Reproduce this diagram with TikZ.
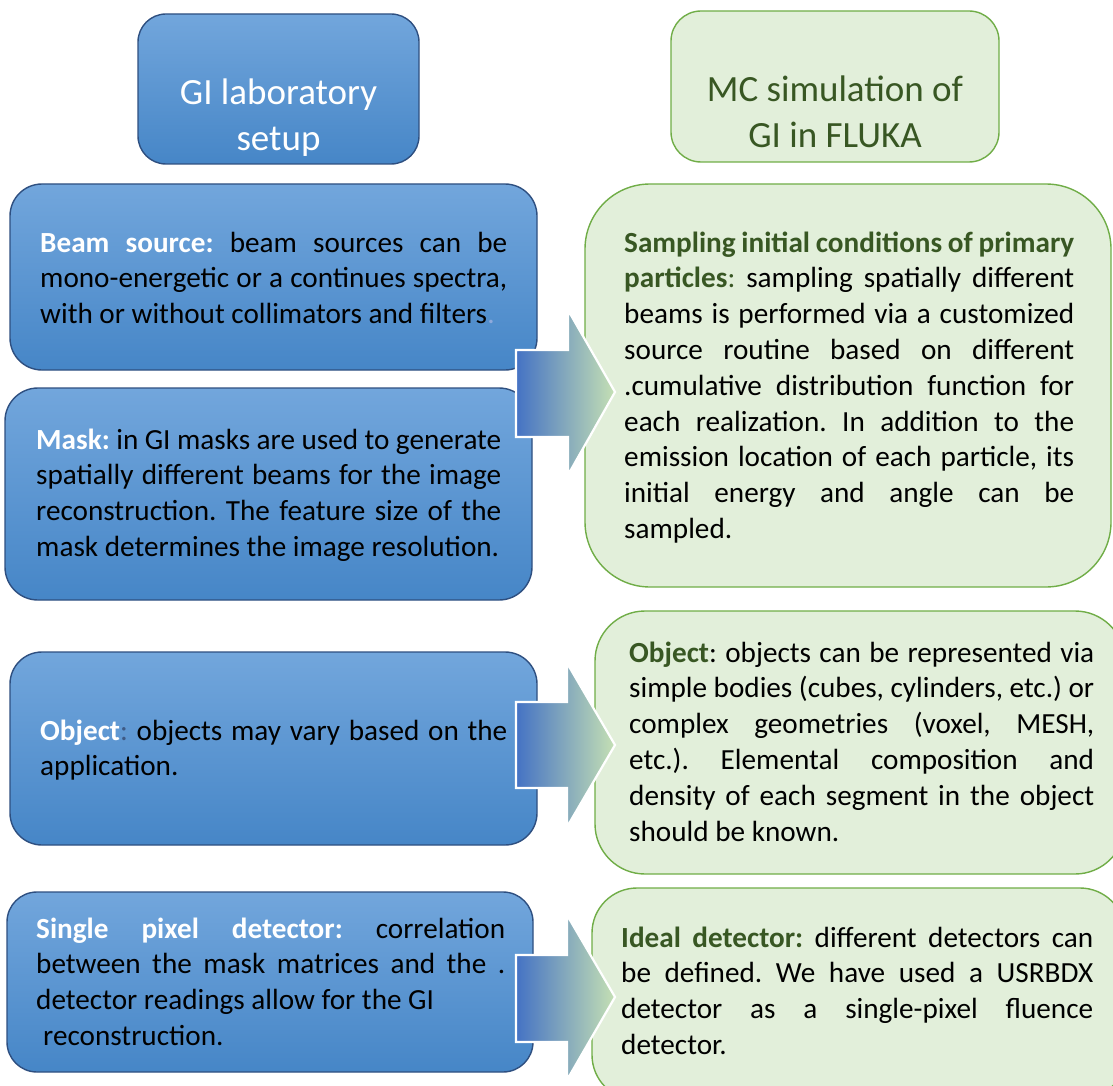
\documentclass[tikz,border=0pt]{standalone}
\usepackage{fontspec}
\setmainfont{Carlito}
\definecolor{blueTop}{HTML}{72A6DC}
\definecolor{blueMid}{HTML}{5A9AD7}
\definecolor{blueBot}{HTML}{4686C7}
\definecolor{blueBorder}{HTML}{2E4F80}
\definecolor{greenFill}{HTML}{E2EFDA}
\definecolor{greenBorder}{HTML}{70AD47}
\definecolor{greenText}{HTML}{385723}
\definecolor{dotBlue}{HTML}{8FAADC}
\definecolor{colonBlue}{HTML}{3E5A85}
\definecolor{arrL}{HTML}{4472C4}
\definecolor{arrR}{HTML}{C5E0B4}
\tikzset{
  bluebox/.style={draw=blueBorder, line width=1.4pt, top color=blueTop, middle color=blueMid, bottom color=blueBot, inner sep=0pt},
  greenbox/.style={draw=greenBorder, line width=1.4pt, fill=greenFill, inner sep=0pt},
  txt/.style={anchor=base west, inner sep=0pt},
  ttl/.style={anchor=base, inner sep=0pt},
  blockarrow/.style={left color=arrL, right color=arrR, draw=white, line width=2.2pt, line join=miter},
}
\newcommand\jl[1]{\hbox to \linewidth{#1}}
\newcommand\lastl[1]{\hbox to \linewidth{#1\hfil}}
\newcommand\bodytext[2]{\begin{minipage}[t]{#1}\frenchspacing\fontsize{29.2}{35.8}\selectfont #2\end{minipage}}
\newcommand\titletext[2]{\begin{minipage}[t]{#1}\centering\fontsize{37}{46}\selectfont #2\end{minipage}}
\begin{document}
\begin{tikzpicture}[x=1pt,y=-1pt]
\useasboundingbox (0,0) rectangle (1113,1086);
\clip (0,0) rectangle (1113,1086);

% title boxes
\node[bluebox, rounded corners=28pt, minimum width=281pt, minimum height=150pt] (gi) at (278.5,89) {};
\node[ttl] (giT) at (278.5,79) {\titletext{281pt}{\color{white}GI laboratory\\setup}};
\node[greenbox, rounded corners=30pt, minimum width=328pt, minimum height=151pt] (mc) at (835,86.5) {};
\node[ttl] (mcT) at (835,76) {\titletext{328pt}{\color{greenText}MC simulation of\\GI in FLUKA}};

% left boxes
\node[bluebox, rounded corners=32pt, minimum width=527pt, minimum height=186pt] (beam) at (273.5,277) {};
\node[txt] (beamT) at (40,252) {\bodytext{467pt}{%
\jl{{\color{white}\bfseries Beam source:} beam sources can be}
\jl{mono-energetic or a continues spectra,}
\lastl{with or without collimators and filters{\color{dotBlue}.}}}};

\node[bluebox, rounded corners=33pt, minimum width=527pt, minimum height=212pt] (mask) at (268.5,494) {};
\node[txt] (maskT) at (36,449) {\bodytext{465pt}{%
\jl{{\color{white}\bfseries Mask:} in GI masks are used to generate}
\jl{spatially different beams for the image}
\jl{reconstruction. The feature size of the}
\lastl{mask determines the image resolution.}}};

\node[bluebox, rounded corners=32pt, minimum width=527pt, minimum height=193pt] (objl) at (273.5,748.5) {};
\node[txt] (objlT) at (40,740) {\bodytext{467pt}{%
\jl{{\color{white}\bfseries Object}{\color{colonBlue}:} objects may vary based on the}
\lastl{application.}}};

\node[bluebox, rounded corners=30pt, minimum width=526pt, minimum height=180pt] (spd) at (270,982) {};
\node[txt] (spdT) at (36,938) {\bodytext{469pt}{%
\jl{{\color{white}\bfseries Single pixel detector:} correlation}
\jl{between the mask matrices and the .}
\lastl{detector readings allow for the GI}
\lastl{\hspace{7pt}reconstruction.}}};

% right boxes
\node[greenbox, rounded corners=65pt, minimum width=526pt, minimum height=403pt] (samp) at (848,385.5) {};
\node[txt] (sampT) at (624,252) {\bodytext{450pt}{%
\jl{\color{greenText}\bfseries Sampling initial conditions of primary}
\jl{{\color{greenText}\bfseries particles}{\color{greenText}:} sampling spatially different}
\jl{beams is performed via a customized}
\jl{source routine based on different}
\jl{.cumulative distribution function for}
\jl{each realization. In addition to the}
\jl{emission location of each particle, its}
\jl{initial energy and angle can be}
\lastl{sampled.}}};

\node[greenbox, rounded corners=50pt, minimum width=530pt, minimum height=263pt] (objr) at (860,742.5) {};
\node[txt] (objrT) at (629,662) {\bodytext{465pt}{%
\jl{{\color{greenText}\bfseries Object}: objects can be represented via}
\jl{simple bodies (cubes, cylinders, etc.) or}
\jl{complex geometries (voxel, MESH,}
\jl{etc.). Elemental composition and}
\jl{density of each segment in the object}
\lastl{should be known.}}};

\node[greenbox, rounded corners=45pt, minimum width=533pt, minimum height=212pt] (ideal) at (858.5,994) {};
\node[txt] (idealT) at (621,947) {\bodytext{472pt}{%
\jl{{\color{greenText}\bfseries Ideal detector:} different detectors can}
\jl{be defined. We have used a USRBDX}
\jl{detector as a single-pixel fluence}
\lastl{detector.}}};

% block arrows
\path[blockarrow] (516,350) -- (568,350) -- (568,310) -- (615,392) -- (568,475) -- (568,437) -- (516,437) -- cycle;
\path[blockarrow] (516,702) -- (567,702) -- (567,663) -- (615,745) -- (567,827) -- (567,788) -- (516,788) -- cycle;
\path[blockarrow] (516,955) -- (567,955) -- (567,915) -- (615,997) -- (567,1080) -- (567,1042) -- (516,1042) -- cycle;
\end{tikzpicture}
\end{document}
